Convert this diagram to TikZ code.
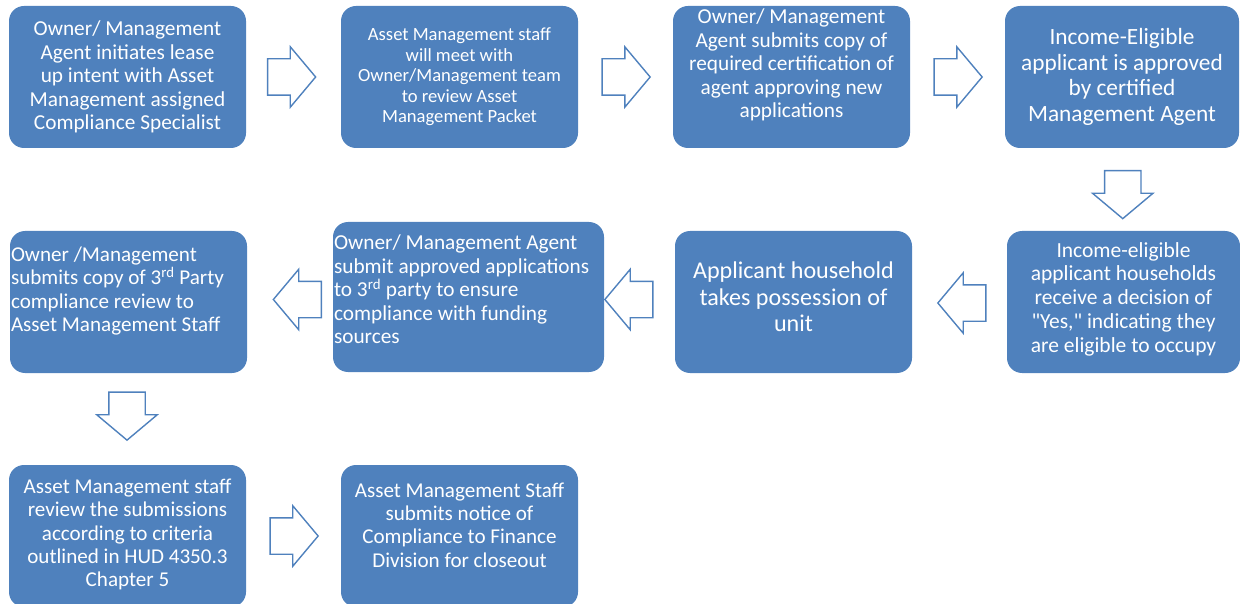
\documentclass[tikz,border=0pt]{standalone}
\usepackage{fontspec}
\setmainfont{Carlito}
\newfontfamily\quotefont{Carlito}
\usetikzlibrary{shapes.arrows,calc}
\definecolor{stepblue}{RGB}{79,129,189}
\definecolor{arrowblue}{RGB}{79,129,189}
\tikzset{
	stepbox/.style={
		fill=stepblue,
		rounded corners=15pt,
		minimum width=237pt,
		minimum height=142pt,
		inner sep=0pt
	},
	steptext/.style={
		text=white,
		align=center,
		inner sep=0pt,
		font=\fontsize{21.3}{23.5}\selectfont
	},
	flowarrow/.style={
		single arrow,
		draw=arrowblue,
		line width=1.4pt,
		fill=white,
		minimum height=48pt,
		minimum width=59pt,
		single arrow head extend=12pt,
		single arrow tip angle=100,
		inner xsep=0pt,
		inner ysep=17.5pt
	},
	downarrow/.style={
		flowarrow,
		shape border rotate=270,
		inner xsep=17.5pt,
		inner ysep=0pt
	}
}

\begin{document}
\begin{tikzpicture}[x=1pt,y=-1pt]
	\useasboundingbox (0,0) rectangle (1240,604);
	
	% Row 1: lease up intent to approval
	\node[stepbox] (b1) at (127.5,77) {};
	\node[steptext] (t1) at (b1) {Owner/ Management\\Agent initiates lease\\up intent with Asset\\Management assigned\\Compliance Specialist};
	\node[stepbox] (b2) at (459.5,77) {};
	\node[steptext,font=\fontsize{18.6}{20.5}\selectfont] (t2) at (b2) {Asset Management staff\\will meet with\\Owner/Management team\\to review Asset\\Management Packet};
	\node[stepbox] (b3) at (791.5,77) {};
	\node[steptext] (t3) at ([yshift=12pt]b3.center) {Owner/ Management\\Agent submits copy of\\required certification of\\agent approving new\\applications};
	\node[stepbox,minimum width=234pt] (b4) at (1122,77) {};
	\node[steptext,font=\fontsize{23.3}{25.7}\selectfont] (t4) at (b4) {Income-Eligible\\applicant is approved\\by certified\\Management Agent};
	
	% Row 2: runs right to left
	\node[stepbox,minimum width=233pt] (b5) at (1123.5,302) {};
	\node[steptext,font=\fontsize{21.5}{23.7}\selectfont] (t5) at ([yshift=3pt]b5.center) {Income-eligible\\applicant households\\receive a decision of\\{\quotefont"}Yes,{\quotefont"} indicating they\\are eligible to occupy};
	\node[stepbox] (b6) at (793.5,302) {};
	\node[steptext,font=\fontsize{24.1}{26.5}\selectfont] (t6) at ([yshift=5pt]b6.center) {Applicant household\\takes possession of\\unit};
	\node[stepbox,minimum width=271pt,minimum height=150pt] (b7) at (468.5,297) {};
	\node[steptext,align=left,anchor=north west] (t7) at ([xshift=1pt,yshift=-13pt]b7.north west) {Owner/ Management Agent\\submit approved applications\\to 3\textsuperscript{rd} party to ensure\\compliance with funding\\sources};
	\node[stepbox] (b8) at (128.5,302) {};
	\node[steptext,align=left,anchor=north west,font=\fontsize{21.1}{23.3}\selectfont] (t8) at ([xshift=1pt,yshift=-16pt]b8.north west) {Owner /Management\\submits copy of 3\textsuperscript{rd} Party\\compliance review to\\Asset Management Staff};
	
	% Row 3: review and closeout
	\node[stepbox] (b9) at (127.5,536) {};
	\node[steptext,font=\fontsize{21.1}{23.3}\selectfont] (t9) at ([yshift=1.5pt]b9.center) {Asset Management staff\\review the submissions\\according to criteria\\outlined in HUD 4350.3\\Chapter 5};
	\node[stepbox] (b10) at (459.5,536) {};
	\node[steptext,font=\fontsize{21.1}{23.3}\selectfont] (t10) at ([yshift=11pt]b10.center) {Asset Management Staff\\submits notice of\\Compliance to Finance\\Division for closeout};
	
	% Block arrows between the steps
	\node[flowarrow] (a1) at ($(b1.east)!0.5!(b2.west)+(-9.5,0)$) {};
	\node[flowarrow] (a2) at ($(b2.east)!0.5!(b3.west)+(-7,0)$) {};
	\node[flowarrow] (a3) at ($(b3.east)!0.5!(b4.west)+(-7,0)$) {};
	\node[downarrow] (a4) at ($(b4.south)!0.5!(b5.north)+(0,-2.5)$) {};
	\node[flowarrow,shape border rotate=180] (a5) at ($(b5.west)!0.5!(b6.east)+(10,1)$) {};
	\node[flowarrow,shape border rotate=180] (a6) at ($(b6.west)!0.5!(b7.east)+(-3,0)$) {};
	\node[flowarrow,shape border rotate=180] (a7) at ($(b7.west)!0.5!(b8.east)+(15,0)$) {};
	\node[downarrow] (a8) at ($(b8.south)!0.5!(b9.north)+(-1,-10.5)$) {};
	\node[flowarrow] (a9) at ($(b9.east)!0.5!(b10.west)+(-7,0)$) {};
	
\end{tikzpicture}
\end{document}
